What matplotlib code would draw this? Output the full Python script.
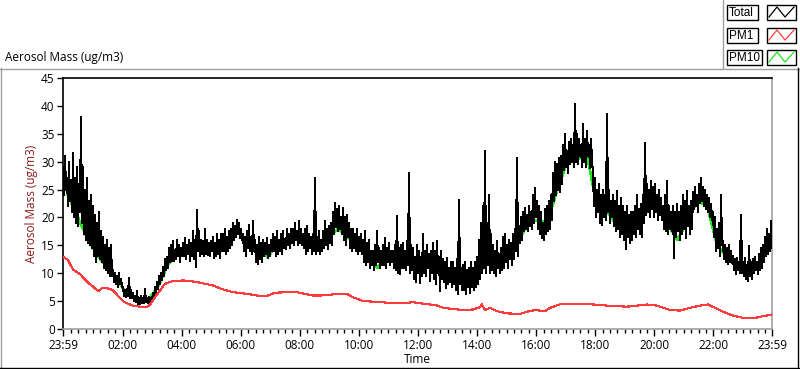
import numpy as np
import matplotlib
matplotlib.use("Agg")
import matplotlib.pyplot as plt
from matplotlib.lines import Line2D
from matplotlib.patches import Rectangle

# ---------------- data ----------------
# Total aerosol mass, about two samples per 4 minutes (each row ~ 20 minutes)
total = [
    29, 24, 31, 25, 27, 22, 30, 23, 26, 21,
    31.5, 20, 27, 19, 29, 18.5, 26, 21, 38, 19,
    29, 17, 25, 16, 27, 15.5, 23, 15, 24, 14.5,
    22, 13, 20.5, 12, 19, 13, 21, 12.5, 17.5, 12,
    16.5, 11, 15, 10.5, 16, 10, 14.5, 9.5, 15, 9.5,
    10.5, 8.5, 10, 8, 9.5, 7.5, 10, 8, 9, 7.5,
    7.5, 6, 7, 5.8, 7.2, 6, 9.2, 5.5, 7, 5.5,
    6.5, 5, 6, 4.8, 6.8, 4.5, 5.5, 4.5, 6, 4.6,
    5.5, 4.6, 7.1, 4.8, 5.5, 4.7, 5.8, 4.6, 5.5, 4.8,
    6.5, 5.5, 7.5, 6.2, 8.5, 7.2, 9.5, 8, 10, 8.8,
    11.2, 9.5, 12.5, 10.5, 13, 11, 14.5, 12, 15, 12.2,
    15.8, 12.2, 14, 12.5, 16, 13, 15, 12, 14.5, 13,
    15.5, 13, 16.4, 12.5, 15, 13.5, 16, 12.2, 15.5, 13,
    17.5, 12.5, 16, 11.2, 21.3, 14, 17.5, 13, 16, 13.5,
    15.8, 13, 18, 13.5, 16, 13.2, 15.5, 13, 15.8, 14,
    16.5, 12.8, 15.5, 13, 17, 13.5, 16, 12.8, 17, 14,
    17, 14, 18, 13.5, 16.5, 14, 17.5, 14.5, 18, 15,
    19, 16, 18.5, 16.5, 19.6, 17, 19, 16.4, 18, 16,
    17, 14, 16.5, 13, 17.5, 14.5, 18.7, 14, 16.5, 13.5,
    19.4, 14, 16, 12, 15, 11.6, 16.5, 12.5, 15.5, 12,
    16, 13, 15.5, 13.5, 16.4, 12.8, 15, 13, 16, 14,
    17, 14, 16.5, 13, 17.5, 13.5, 16, 14, 17, 13.5,
    17.5, 14.5, 16, 14.3, 18, 15, 17, 14.5, 18, 15.5,
    18, 15, 19, 16, 17.5, 15, 19.4, 15.5, 18, 15,
    17, 14.5, 18, 13.5, 18.5, 14, 17, 14.5, 16.5, 13.5,
    17, 14, 27.1, 13.5, 16.5, 14, 17.5, 13.4, 16, 14,
    17.5, 14.5, 19.4, 15, 18, 14.3, 18.5, 15.5, 19, 15,
    21, 17, 22.6, 18.2, 21.5, 17.5, 22, 18, 20, 17,
    21.7, 16, 20, 15, 20.5, 16.5, 19, 14.5, 18, 14,
    18, 14.5, 17, 14, 18, 13.5, 16.5, 14, 17, 13.5,
    16, 12, 17.5, 11.5, 15.5, 12, 16, 11, 14, 11.5,
    14, 10.5, 15, 11.5, 17.5, 12, 14.5, 11, 14, 11.5,
    15, 11.5, 16.4, 11, 14.5, 12, 15.5, 11.5, 14, 12,
    14, 11, 15, 10.5, 20.2, 10, 14.5, 9.8, 15, 11,
    15.5, 11, 14, 10.5, 15.8, 11.5, 28, 10, 15, 10.5,
    14.5, 9, 13, 8.5, 15, 10, 14, 8.2, 13, 9.5,
    17, 10, 14, 9.5, 15, 11, 13.5, 8.6, 14, 10,
    15.5, 9, 14, 8, 15.8, 10, 13, 6.8, 14, 9,
    12.5, 8.5, 12, 7.4, 12.8, 8, 11, 8.5, 12, 7.5,
    12, 8, 11, 7, 12.5, 6.2, 23.2, 8, 11, 7,
    11.5, 7, 12, 6.2, 10.5, 7.5, 11, 6.5, 12, 7.5,
    11, 7, 12, 7.5, 13, 8, 16, 9, 19, 10,
    22, 11, 31.9, 10, 19, 11.5, 24.1, 10, 17, 10.5,
    15, 10, 14, 9.5, 15.8, 11, 13.5, 10, 14.5, 10.5,
    16.5, 11, 17, 12, 15, 11, 16, 12.5, 15.5, 11.5,
    17, 12.5, 18, 14, 30.7, 13, 18.5, 15.5, 20, 16,
    21, 17.5, 21.7, 18, 20.5, 17.5, 22, 18.5, 21, 18,
    24, 19, 25.3, 20, 23, 18, 22, 17, 21, 16.4,
    19, 16, 21.5, 17, 22, 17.5, 23, 18, 24, 19.5,
    28, 23, 30, 24, 29.5, 25, 30.7, 24.5, 31, 26,
    33, 28.5, 34.9, 29, 32, 28, 33.5, 29.5, 34, 30,
    33, 29, 40.3, 30, 35, 29.5, 34, 31, 33, 29,
    36.7, 30, 34, 29, 35.5, 31, 33, 28.9, 34, 30,
    28, 22, 27, 20, 25, 21, 26, 19, 24, 18.7,
    25, 20, 24, 19.5, 38.6, 21, 25, 19, 23, 20,
    24, 18.5, 23, 17.5, 24.7, 18, 22, 16.5, 23.5, 17,
    22, 16, 21, 14.3, 22, 16.5, 20.5, 15.5, 21, 16,
    21, 17, 22, 16.5, 24, 18, 21.5, 17, 22.5, 16.5,
    24, 19, 33.4, 20.5, 26, 21, 25, 20, 26.5, 21.5,
    25.5, 20, 26, 21, 24, 19.5, 25, 20.5, 23.5, 19.5,
    22, 18, 24.1, 17.5, 26.5, 17, 22, 18, 21, 17.5,
    22, 12.8, 21, 16.5, 22.5, 17.5, 21, 16, 22, 17,
    24, 18, 23, 16.4, 24.7, 18.5, 22, 17, 23, 18,
    24.5, 21.5, 25.5, 22, 24, 21, 26, 22.5, 27, 23,
    25.5, 22, 25, 21.5, 24, 21, 23.5, 20, 22.5, 19.5,
    21, 16.5, 20, 14, 18, 14.5, 19, 13, 24.1, 15,
    15.8, 12.5, 15, 12, 14.5, 11.6, 15, 12, 14, 11.8,
    13, 10.5, 12.5, 9.8, 12.8, 10.5, 12, 10, 20.5, 10,
    12, 9.5, 12.8, 9, 11.5, 8.6, 14.8, 9.5, 12, 9,
    12.5, 10, 13, 10.5, 12, 9.8, 13.5, 10.5, 14.5, 11,
    15, 12, 16.5, 13, 18, 13.5, 17, 14, 19.4, 14.5,
]
total_minutes = np.linspace(0, 1440, len(total))

# PM10, one value about every 20 minutes
pm10 = [
    24, 20, 16, 13, 11, 8.5, 6.2, 5.2, 5.1, 7.5,
    11.5, 13.5, 14, 15, 14.5, 14, 15.5, 17.5, 15, 13.5,
    13, 15, 15.5, 16.5, 15.5, 15, 16, 18, 16.5, 15,
    12.5, 11, 13, 12, 13.5, 10.5, 11, 10.5, 9.5, 8.5,
    8.5, 9.5, 12, 11.5, 13, 15, 19, 19.5, 19, 25,
    30, 30.5, 31, 21.5, 21, 18.5, 17, 18.5, 22, 21.5,
    19, 16, 19, 23, 22, 15, 13, 11, 10, 11,
    14,
]
pm10_minutes = np.linspace(10, 1430, len(pm10))

# PM1
pm1_minutes = [
    0, 10, 20, 35, 51, 65, 71, 81, 95, 102, 112, 122, 132, 142, 156, 171, 177,
    191, 207, 223, 244, 258, 278, 305, 325, 345, 374, 394, 414, 430, 455, 475,
    491, 508, 522, 548, 579, 589, 609, 630, 650, 664, 684, 711, 735, 745, 760,
    772, 792, 812, 833, 847, 851, 857, 868, 881, 902, 928, 942, 959, 979, 989,
    1009, 1030, 1056, 1076, 1105, 1125, 1145, 1166, 1186, 1206, 1223, 1233,
    1253, 1274, 1294, 1310, 1324, 1340, 1361, 1381, 1401, 1422, 1440,
]
pm1 = [
    12.9, 12.4, 10.7, 9.8, 8.3, 7.3, 6.8, 7.4, 7.2, 6.9, 5.9, 5.0, 4.5, 4.2, 4.0, 4.0, 4.4,
    6.2, 8.1, 8.6, 8.7, 8.6, 8.3, 7.8, 7.1, 6.6, 6.3, 6.0, 5.9, 6.5, 6.6, 6.6,
    6.3, 6.0, 6.0, 6.2, 6.2, 5.7, 5.0, 4.9, 4.8, 4.6, 4.6, 4.8, 4.5, 4.4, 4.2,
    3.8, 3.6, 3.4, 3.5, 3.9, 4.4, 3.4, 3.8, 3.2, 2.8, 2.7, 3.1, 3.4, 3.2, 3.8,
    4.4, 4.5, 4.5, 4.4, 4.2, 4.1, 4.0, 4.2, 4.4, 4.2, 3.7, 3.4,
    3.3, 3.8, 4.2, 4.4, 3.8, 3.1, 2.4, 2.0, 1.9, 2.3, 2.6,
]

major_ticks = [0, 121, 241, 361, 481, 601, 721, 841, 961, 1081, 1201, 1321, 1440]
major_labels = ["23:59", "02:00", "04:00", "06:00", "08:00", "10:00", "12:00",
                "14:00", "16:00", "18:00", "20:00", "22:00", "23:59"]
y_ticks = [0, 5, 10, 15, 20, 25, 30, 35, 40, 45]
legend_names = ["Total", "PM1", "PM10"]
legend_colors = ["#000000", "#ff3c3c", "#1ee61e"]

# ---------------- figure ----------------
W, H = 800, 369
plt.rcParams['font.family'] = ['Open Sans', 'DejaVu Sans']
fig = plt.figure(figsize=(W / 100, H / 100), dpi=100)
fig.patch.set_facecolor("white")


def fx(x):
    return x / W


def fy(y):
    return 1 - y / H


def hline(x0, x1, y, color, lw=1.0):
    fig.add_artist(Line2D([fx(x0), fx(x1)], [fy(y), fy(y)], color=color, lw=lw,
                          transform=fig.transFigure))


def vline(x, y0, y1, color, lw=1.0):
    fig.add_artist(Line2D([fx(x), fx(x)], [fy(y0), fy(y1)], color=color, lw=lw,
                          transform=fig.transFigure))


L, R, T, B = 63, 772, 78, 329
ax = fig.add_axes([fx(L), fy(B), (R - L) / W, (B - T) / H])

ax.plot(pm10_minutes, pm10, color=legend_colors[2], lw=1.2, zorder=2, antialiased=False)
ax.plot(total_minutes, total, color=legend_colors[0], lw=0.8, zorder=3, antialiased=False)
ax.plot(pm1_minutes, pm1, color=legend_colors[1], lw=0.8, zorder=4, antialiased=False)

ax.set_xlim(0, 1440)
ax.set_ylim(0, 45)
ax.set_xticks(major_ticks)
ax.set_xticklabels(major_labels)
minor = [m for m in range(121 - 15 * 8, 1440, 15) if 5 < m < 1435 and m not in major_ticks]
ax.set_xticks(minor, minor=True)
ax.set_yticks(y_ticks)
ax.tick_params(axis="both", which="major", direction="out", length=4, width=1,
               labelsize=8.5, colors="black", pad=2)
ax.tick_params(axis="x", which="minor", direction="out", length=3, width=1)
ax.tick_params(axis="x", which="major", length=5)
for s in ["left", "top"]:
    ax.spines[s].set_color("black")
    ax.spines[s].set_linewidth(1.2)
for s in ["right", "bottom"]:
    ax.spines[s].set_color("#a0a0a0")
    ax.spines[s].set_linewidth(1.2)

ax.set_ylabel("Aerosol Mass (ug/m3)", color="#8b1a1a", fontsize=8.5, labelpad=2)
ax.set_xlabel("Time", fontsize=8.5, labelpad=1)

# panel frame
hline(0, 800, 68.5, "#a0a0a0")
vline(0.5, 68, 369, "#a0a0a0")
vline(798, 68, 369, "black")
hline(0, 800, 368, "black")
vline(722.5, 0, 68, "#a0a0a0")

fig.text(fx(5), fy(58), "Aerosol Mass (ug/m3)", fontsize=8.5, va="center", ha="left")

# legend
rows_y = [5, 28, 50]
box_w = [31, 31, 35]
for name, col, y0, bw in zip(legend_names, legend_colors, rows_y, box_w):
    fig.add_artist(Rectangle((fx(727), fy(y0 + 15)), bw / W, 15 / H, facecolor="white",
                             edgecolor="black", lw=1, transform=fig.transFigure))
    fig.text(fx(729), fy(y0 + 8), name, fontsize=8.5, va="center", ha="left",
             family=["Liberation Sans", "DejaVu Sans"])
    fig.add_artist(Rectangle((fx(767), fy(y0 + 15)), 29 / W, 15 / H, facecolor="white",
                             edgecolor="black", lw=1, transform=fig.transFigure))
    xs = [769, 777, 785, 794]
    ys = [y0 + 12, y0 + 2, y0 + 12, y0 + 2]
    fig.add_artist(Line2D([fx(x) for x in xs], [fy(y) for y in ys], color=col, lw=0.9,
                          transform=fig.transFigure))

fig.savefig("out.png", dpi=100)
